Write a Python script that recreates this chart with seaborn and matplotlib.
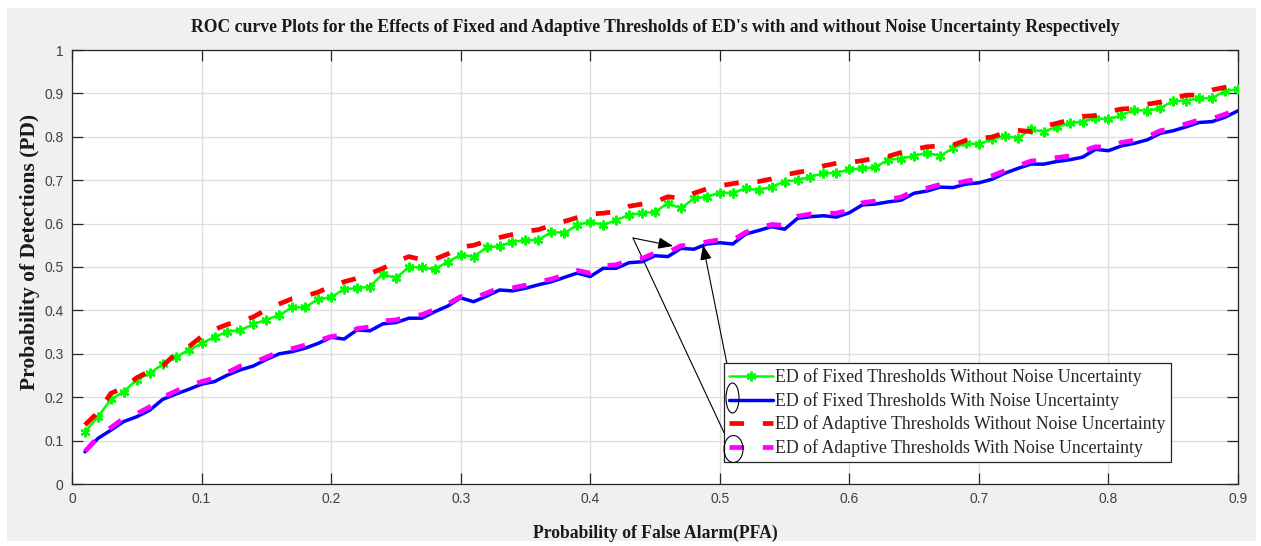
import numpy as np
import pandas as pd
import matplotlib
matplotlib.use("Agg")
import matplotlib.pyplot as plt
from matplotlib.patches import Ellipse, Rectangle
import seaborn as sns

# Probability of false alarm (x axis)
pfa = [round(0.01 * i, 2) for i in range(1, 91)]

# ED of fixed thresholds without noise uncertainty
pd_fixed_clean = [
    0.120, 0.155, 0.195, 0.213, 0.240, 0.255, 0.276, 0.292, 0.309, 0.324,
    0.339, 0.351, 0.355, 0.368, 0.379, 0.389, 0.407, 0.407, 0.426, 0.430,
    0.449, 0.451, 0.455, 0.484, 0.474, 0.500, 0.499, 0.495, 0.512, 0.528,
    0.524, 0.545, 0.548, 0.558, 0.562, 0.562, 0.581, 0.578, 0.597, 0.604,
    0.597, 0.608, 0.620, 0.624, 0.627, 0.647, 0.635, 0.658, 0.662, 0.671,
    0.671, 0.681, 0.677, 0.685, 0.697, 0.700, 0.708, 0.716, 0.717, 0.725,
    0.727, 0.730, 0.747, 0.750, 0.756, 0.763, 0.756, 0.774, 0.785, 0.783,
    0.794, 0.802, 0.797, 0.817, 0.812, 0.823, 0.831, 0.835, 0.843, 0.840,
    0.850, 0.862, 0.860, 0.866, 0.883, 0.883, 0.889, 0.889, 0.906, 0.909,
]

# ED of fixed thresholds with noise uncertainty
pd_fixed_noisy = [
    0.074, 0.105, 0.124, 0.144, 0.155, 0.170, 0.195, 0.207, 0.218, 0.230,
    0.236, 0.251, 0.263, 0.272, 0.287, 0.300, 0.305, 0.313, 0.324, 0.338,
    0.334, 0.355, 0.353, 0.369, 0.372, 0.382, 0.382, 0.397, 0.410, 0.429,
    0.420, 0.433, 0.447, 0.445, 0.451, 0.459, 0.466, 0.476, 0.486, 0.478,
    0.497, 0.497, 0.510, 0.512, 0.526, 0.524, 0.543, 0.541, 0.553, 0.556,
    0.553, 0.576, 0.584, 0.593, 0.587, 0.612, 0.616, 0.618, 0.615, 0.625,
    0.643, 0.645, 0.650, 0.654, 0.670, 0.675, 0.684, 0.683, 0.691, 0.694,
    0.702, 0.716, 0.727, 0.737, 0.737, 0.743, 0.747, 0.753, 0.771, 0.768,
    0.779, 0.785, 0.793, 0.808, 0.814, 0.823, 0.833, 0.835, 0.845, 0.860,
]

# ED of adaptive thresholds without noise uncertainty
pd_adaptive_clean = [
    0.136, 0.165, 0.209, 0.222, 0.245, 0.260, 0.272, 0.300, 0.316, 0.340,
    0.356, 0.368, 0.374, 0.385, 0.402, 0.415, 0.427, 0.433, 0.442, 0.456,
    0.466, 0.474, 0.485, 0.497, 0.512, 0.524, 0.517, 0.518, 0.530, 0.546,
    0.550, 0.560, 0.568, 0.575, 0.582, 0.586, 0.596, 0.605, 0.614, 0.622,
    0.624, 0.628, 0.640, 0.645, 0.650, 0.662, 0.658, 0.670, 0.680, 0.687,
    0.692, 0.697, 0.697, 0.703, 0.712, 0.718, 0.723, 0.733, 0.739, 0.741,
    0.745, 0.751, 0.755, 0.764, 0.771, 0.777, 0.779, 0.781, 0.792, 0.797,
    0.799, 0.810, 0.815, 0.812, 0.824, 0.831, 0.839, 0.847, 0.849, 0.858,
    0.864, 0.866, 0.875, 0.880, 0.889, 0.896, 0.896, 0.908, 0.914, 0.918,
]

# ED of adaptive thresholds with noise uncertainty
pd_adaptive_noisy = [
    0.075, 0.108, 0.130, 0.152, 0.162, 0.178, 0.200, 0.214, 0.226, 0.236,
    0.244, 0.257, 0.272, 0.280, 0.292, 0.305, 0.312, 0.320, 0.330, 0.340,
    0.343, 0.358, 0.362, 0.376, 0.378, 0.388, 0.390, 0.402, 0.415, 0.432,
    0.428, 0.440, 0.452, 0.452, 0.458, 0.466, 0.472, 0.482, 0.492, 0.486,
    0.503, 0.505, 0.516, 0.520, 0.532, 0.534, 0.549, 0.550, 0.558, 0.563,
    0.562, 0.580, 0.590, 0.598, 0.596, 0.617, 0.622, 0.624, 0.624, 0.631,
    0.648, 0.652, 0.656, 0.661, 0.676, 0.682, 0.690, 0.691, 0.698, 0.702,
    0.710, 0.722, 0.733, 0.744, 0.747, 0.752, 0.756, 0.767, 0.777, 0.776,
    0.787, 0.792, 0.800, 0.814, 0.820, 0.830, 0.839, 0.842, 0.852, 0.864,
]

labels = [
    "ED of Fixed Thresholds Without Noise Uncertainty",
    "ED of Fixed Thresholds With Noise Uncertainty",
    "ED of Adaptive Thresholds Without Noise Uncertainty",
    "ED of Adaptive Thresholds With Noise Uncertainty",
]
x_ticks = [0, 0.1, 0.2, 0.3, 0.4, 0.5, 0.6, 0.7, 0.8, 0.9]
y_ticks = [0, 0.1, 0.2, 0.3, 0.4, 0.5, 0.6, 0.7, 0.8, 0.9, 1]

sns.set_style("ticks")
plt.rcParams["font.family"] = ["Liberation Sans", "DejaVu Sans"]
plt.rcParams["lines.scale_dashes"] = False

W, H = 1261, 546
fig = plt.figure(figsize=(W / 100, H / 100), dpi=100)
fig.patch.set_facecolor("white")
fig.patches.append(Rectangle((7 / W, 5 / H), (W - 12) / W, (H - 13) / H,
                             transform=fig.transFigure, facecolor="#f0f0f0",
                             edgecolor="none", zorder=-10))

ax = fig.add_axes([72 / W, 1 - 484 / H, (1238 - 72) / W, (484 - 50) / H])
ax.set_facecolor("white")

df = pd.DataFrame({
    "pfa": pfa,
    "fixed_clean": pd_fixed_clean,
    "fixed_noisy": pd_fixed_noisy,
    "adaptive_clean": pd_adaptive_clean,
    "adaptive_noisy": pd_adaptive_noisy,
})

dash = (0, (10.5, 13.5))
sns.lineplot(data=df, x="pfa", y="fixed_clean", ax=ax, color="#00ff00", lw=1.8,
             marker=(6, 2, 0), markersize=7, markeredgewidth=1.6,
             markeredgecolor="#00ff00", label=labels[0], zorder=3)
sns.lineplot(data=df, x="pfa", y="fixed_noisy", ax=ax, color="#0000ff", lw=2.5,
             label=labels[1], zorder=3)
sns.lineplot(data=df, x="pfa", y="adaptive_clean", ax=ax, color="#ff0000", lw=3.4,
             linestyle=dash, label=labels[2], zorder=4)
sns.lineplot(data=df, x="pfa", y="adaptive_noisy", ax=ax, color="#ff00ff", lw=3.4,
             linestyle=dash, label=labels[3], zorder=4)

ax.set_xlim(0, 0.9)
ax.set_ylim(0, 1)
ax.set_xticks(x_ticks)
ax.set_xticklabels([f"{v:g}" for v in x_ticks])
ax.set_yticks(y_ticks)
ax.set_yticklabels([f"{v:g}" for v in y_ticks])
ax.grid(True, color="#dedede", lw=0.9)
ax.set_axisbelow(True)
for s in ax.spines.values():
    s.set_visible(True)
    s.set_color("#262626")
    s.set_linewidth(0.9)
ax.tick_params(direction="in", length=8, width=0.9, colors="#262626",
               labelcolor="#404040", labelsize=10, pad=6,
               top=True, right=True)

serif = ["Liberation Serif", "DejaVu Serif"]
ax.set_title("ROC curve Plots for the Effects of Fixed and Adaptive Thresholds of ED's "
             "with and without Noise Uncertainty Respectively",
             fontfamily=serif, fontweight="bold", fontsize=12.7, pad=13, color="#1a1a1a")
ax.set_xlabel("Probability of False Alarm(PFA)", fontfamily=serif, fontweight="bold",
              fontsize=12.7, labelpad=13, color="#1a1a1a")
ax.set_ylabel("Probability of Detections (PD)", fontfamily=serif, fontweight="bold",
              fontsize=15.5, color="#1a1a1a")
ax.yaxis.set_label_coords(-0.0275, 0.535)

leg = ax.legend(loc="upper left", bbox_to_anchor=(724 / W, 1 - 363 / H),
                bbox_transform=fig.transFigure, prop={"family": serif, "size": 12.8},
                frameon=True, fancybox=False, framealpha=1, edgecolor="#262626",
                handlelength=2.45, handletextpad=0.1, labelspacing=0.32,
                borderpad=0.3, borderaxespad=0, numpoints=1)
leg.get_frame().set_linewidth(0.9)

def fpt(px, py):
    return (px / W, 1 - py / H)

arrow_kw = dict(arrowstyle="-|>,head_length=0.9,head_width=0.35", color="black",
                lw=0.8, shrinkA=0, shrinkB=0)
# Arrow pointing at the lower pair of curves, drawn from the adaptive-noisy legend entry
ax.annotate("", xy=fpt(727, 439), xytext=fpt(633, 238), xycoords="figure fraction",
            textcoords="figure fraction",
            arrowprops=dict(arrowstyle="-", color="black", lw=0.8, shrinkA=0, shrinkB=0))
ax.annotate("", xy=fpt(673, 246), xytext=fpt(633, 238), xycoords="figure fraction",
            textcoords="figure fraction", arrowprops=arrow_kw)
ax.annotate("", xy=fpt(703, 245), xytext=fpt(731, 384), xycoords="figure fraction",
            textcoords="figure fraction", arrowprops=arrow_kw)

for cx, cy, w, h in [(732.5, 398, 13, 30), (733.5, 449, 19, 27)]:
    fig.patches.append(Ellipse(fpt(cx, cy), w / W, h / H, transform=fig.transFigure,
                               facecolor="none", edgecolor="black", lw=0.8, zorder=10))

fig.savefig("out.png", dpi=100, facecolor=fig.get_facecolor())
